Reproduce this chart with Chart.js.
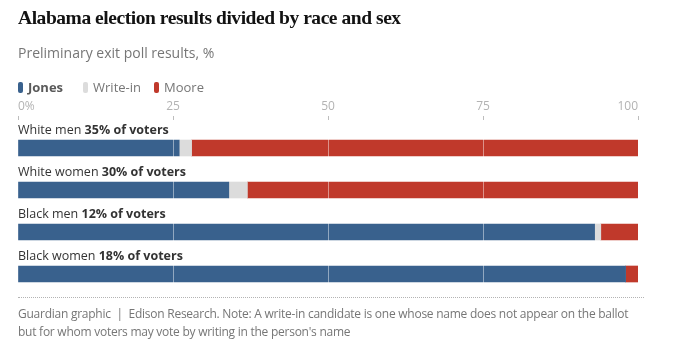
<!DOCTYPE html>
<html>
<head>
<meta charset="utf-8">
<script src="https://cdn.jsdelivr.net/npm/chart.js@4/dist/chart.umd.min.js"></script>
<style>
  html, body { margin: 0; padding: 0; background: #fff; }
  body { width: 675px; height: 358px; position: relative; overflow: hidden; font-family: "Open Sans", sans-serif; }
  #title { position: absolute; left: 18px; top: 7px; font-family: "Liberation Serif", serif; font-weight: bold; font-size: 19.5px; letter-spacing: -0.45px; color: #121212; white-space: nowrap; }
  #subtitle { position: absolute; left: 18px; top: 43px; font-size: 14px; color: #767676; white-space: nowrap; }
  #legend { position: absolute; left: 18px; top: 78px; font-size: 13px; color: #767676; white-space: nowrap; }
  #legend span.item { margin-right: 13px; display: inline-flex; align-items: center; }
  #legend span.item:first-child { margin-right: 20px; }
  #legend span.sw { display: inline-block; width: 5px; height: 11px; border-radius: 2px; margin-right: 5px; }
  #chartwrap { position: absolute; left: 0; top: 0; width: 675px; height: 358px; }
  #footer { position: absolute; left: 18px; top: 297px; width: 626px; border-top: 1px dotted #b3b3b3; padding-top: 7px; font-size: 12px; line-height: 18px; color: #767676; white-space: nowrap; letter-spacing: -0.25px; }
</style>
</head>
<body>
<div id="chartwrap"><canvas id="c" width="675" height="358"></canvas></div>
<div id="title">Alabama election results divided by race and sex</div>
<div id="subtitle">Preliminary exit poll results, %</div>
<div id="legend"></div>
<div id="footer">Guardian graphic &nbsp;|&nbsp; Edison Research. Note: A write-in candidate is one whose name does not appear on the ballot<br>but for whom voters may vote by writing in the person's name</div>
<script>
const categories = ["White men", "White women", "Black men", "Black women"];
const voterShares = ["35% of voters", "30% of voters", "12% of voters", "18% of voters"];
const seriesNames = ["Jones", "Write-in", "Moore"];
const jones = [26, 34, 93, 98];
const writeIn = [2, 3, 1, 0];
const moore = [72, 63, 6, 2];
const tickValues = [0, 25, 50, 75, 100];
const tickLabels = ["0%", "25", "50", "75", "100"];
const seriesColors = ["#39618d", "#dcdcdc", "#c0392b"];

// legend
const legend = document.getElementById('legend');
seriesNames.forEach((n, i) => {
  const item = document.createElement('span');
  item.className = 'item';
  const sw = document.createElement('span');
  sw.className = 'sw';
  sw.style.background = seriesColors[i];
  const t = document.createElement('span');
  t.textContent = n;
  if (i === 0) { t.style.fontWeight = 'bold'; t.style.color = '#5a5a5a'; }
  item.appendChild(sw); item.appendChild(t);
  legend.appendChild(item);
});

const overlayPlugin = {
  id: 'overlay',
  afterDatasetsDraw(chart) {
    const ctx = chart.ctx;
    const xs = chart.scales.x, ys = chart.scales.y;
    const area = chart.chartArea;
    ctx.save();
    // light grid lines over bars
    ctx.strokeStyle = 'rgba(255,255,255,0.45)';
    ctx.lineWidth = 1;
    tickValues.forEach(v => {
      if (v === xs.min || v === xs.max) return;
      const x = Math.round(xs.getPixelForValue(v)) + 0.5;
      ctx.beginPath(); ctx.moveTo(x, area.top); ctx.lineTo(x, area.bottom); ctx.stroke();
    });
    // category labels above bars
    ctx.textBaseline = 'alphabetic';
    ctx.fillStyle = '#333333';
    categories.forEach((c, i) => {
      const y = ys.getPixelForValue(i) - 14;
      const x = xs.getPixelForValue(0);
      ctx.font = '12.5px "Open Sans", sans-serif';
      const first = c + ' ';
      ctx.fillText(first, x, y);
      const w = ctx.measureText(first).width;
      ctx.font = 'bold 12.5px "Open Sans", sans-serif';
      ctx.fillText(voterShares[i], x + w, y);
    });
    ctx.restore();
  }
};

new Chart(document.getElementById('c'), {
  type: 'bar',
  data: {
    labels: categories,
    datasets: [
      { label: seriesNames[0], data: jones, backgroundColor: seriesColors[0] },
      { label: seriesNames[1], data: writeIn, backgroundColor: seriesColors[1] },
      { label: seriesNames[2], data: moore, backgroundColor: seriesColors[2] }
    ]
  },
  options: {
    indexAxis: 'y',
    responsive: false,
    animation: false,
    events: [],
    datasets: { bar: { barThickness: 16, borderWidth: 0 } },
    layout: { padding: { left: 18, right: 37, top: 100, bottom: 63 } },
    plugins: { legend: { display: false }, tooltip: { enabled: false }, title: { display: false } },
    scales: {
      x: {
        position: 'top',
        stacked: true,
        min: 0, max: 100,
        afterBuildTicks(scale) { scale.ticks = tickValues.map(v => ({ value: v })); },
        afterFit(scale) { scale.height = 27; },
        border: { display: false },
        grid: { drawOnChartArea: false, tickColor: '#bdbdbd', tickLength: 11, tickBorderDash: [4, 20], lineWidth: 1 },
        ticks: {
          align: 'inner',
          padding: 2,
          color: '#b3b3b3',
          font: { family: '"Open Sans", sans-serif', size: 12 },
          callback(v) { const k = tickValues.indexOf(v); return k >= 0 ? tickLabels[k] : ''; }
        }
      },
      y: {
        stacked: true,
        display: false
      }
    }
  },
  plugins: [overlayPlugin]
});
</script>
</body>
</html>
